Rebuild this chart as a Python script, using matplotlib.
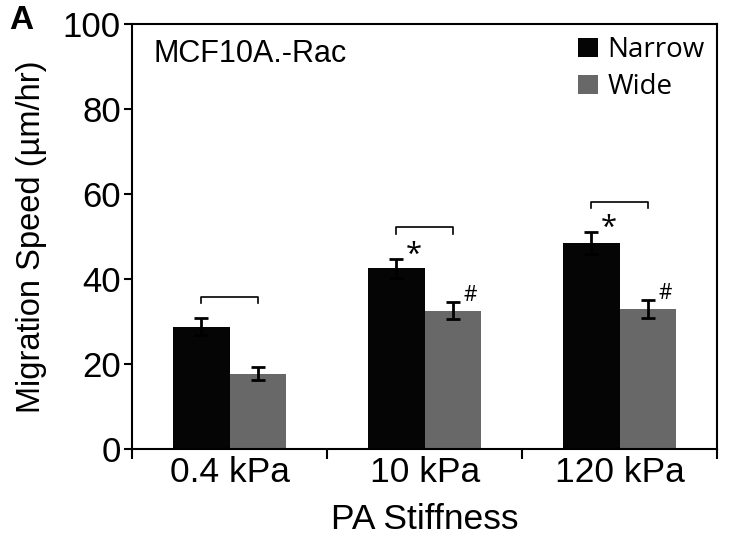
import numpy as np
import matplotlib.pyplot as plt

# Data
stiffness = ['0.4 kPa', '10 kPa', '120 kPa']
narrow = [28.8, 42.5, 48.5]
narrow_err = [2.0, 2.2, 2.5]
wide = [17.8, 32.6, 32.9]
wide_err = [1.5, 2.0, 2.1]
bracket_y = [35.9, 52.2, 58.2]
narrow_marks = ['', '*', '*']
wide_marks = ['', '#', '#']

plt.rcParams['font.family'] = ['Liberation Sans', 'DejaVu Sans']

fig = plt.figure(figsize=(7.29, 5.4), dpi=100)
ax = fig.add_axes([0.181, 0.168, 0.803, 0.788])

x = np.arange(len(stiffness))
w = 0.29
ax.bar(x - w / 2, narrow, w, color='#050505', label='Narrow')
ax.bar(x + w / 2, wide, w, color='#686868', label='Wide')
ax.errorbar(x - w / 2, narrow, yerr=narrow_err, fmt='none', ecolor='black',
            elinewidth=2, capsize=5, capthick=2)
ax.errorbar(x + w / 2, wide, yerr=wide_err, fmt='none', ecolor='black',
            elinewidth=2, capsize=5, capthick=2)

# significance brackets and markers
for i in range(len(stiffness)):
    y0 = bracket_y[i]
    ax.plot([x[i] - w / 2, x[i] - w / 2, x[i] + w / 2, x[i] + w / 2],
            [y0 - 1.5, y0, y0, y0 - 1.5], color='black', lw=1.2)
    if narrow_marks[i]:
        ax.text(x[i] - w / 2 + 0.09, narrow[i] + narrow_err[i] + 0.9, narrow_marks[i],
                fontsize=21, family='Open Sans', ha='center', va='center')
    if wide_marks[i]:
        ax.text(x[i] + w / 2 + 0.09, wide[i] + wide_err[i] + 1.5, wide_marks[i],
                fontsize=15, family='Open Sans', ha='center', va='center')

ax.set_xlim(-0.5, 2.5)
ax.set_ylim(0, 100)
ax.set_yticks([0, 20, 40, 60, 80, 100])
ax.set_xticks(x)
ax.set_xticklabels(stiffness)
ax.set_xticks([-0.5, 0.5, 1.5, 2.5], minor=True)
ax.tick_params(axis='x', which='major', length=0, pad=5, labelsize=25.5)
ax.tick_params(axis='x', which='minor', length=7, width=1.5, direction='out')
ax.tick_params(axis='y', length=6, width=1.5, labelsize=25, pad=2)
for s in ax.spines.values():
    s.set_linewidth(1.5)

ax.set_xlabel('PA Stiffness', fontsize=25.5, labelpad=10)
ax.set_ylabel('Migration Speed (\u00b5m/hr)', fontsize=23.5, labelpad=11)

ax.text(0.036, 0.93, 'MCF10A.-Rac', transform=ax.transAxes, fontsize=22,
        ha='left', va='center')
fig.text(0.012, 0.962, 'A', fontsize=24, fontweight='bold', ha='left', va='center')

ax.legend(loc='upper right', frameon=False, prop={'family': 'Open Sans', 'size': 20},
          handlelength=0.7, handleheight=0.7, handletextpad=0.35, labelspacing=0.32,
          borderaxespad=0.15, borderpad=0.3)

fig.savefig('out.png', dpi=100)
